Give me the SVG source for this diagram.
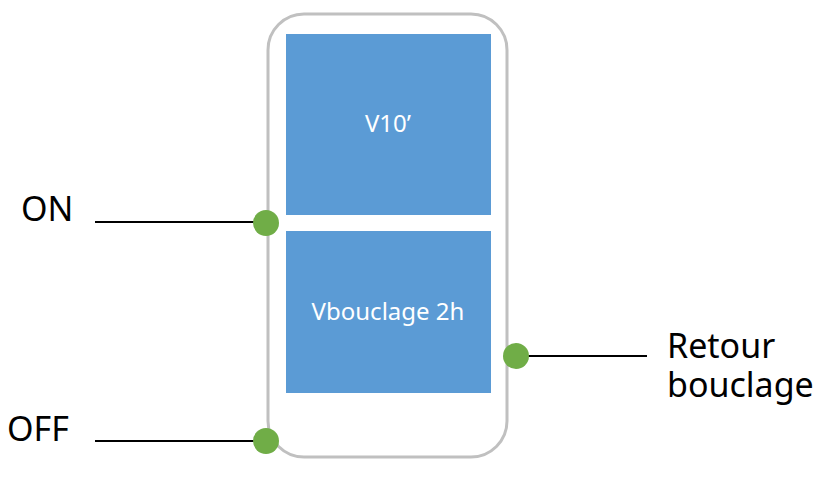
<svg xmlns="http://www.w3.org/2000/svg" width="830" height="480" viewBox="0 0 830 480">
<style>
.lbl{font-family:"Noto Sans",Lato,"Liberation Sans",sans-serif;fill:#000;font-size:34px}
.in{font-family:"Noto Sans",Lato,"Liberation Sans",sans-serif;fill:#fff;font-size:24px;text-anchor:middle}
.blk{fill:#5B9BD5}
.dot{fill:#70AD47}
.wire{stroke:#000;stroke-width:2;fill:none}
</style>
<rect width="830" height="480" fill="#fff"/>
<g id="container">
<rect x="268" y="14" width="239" height="443" rx="36" ry="36" fill="#fff" stroke="#C0C0C0" stroke-width="3"/>
</g>
<g id="v10">
<rect class="blk" x="286" y="34" width="205" height="181"/>
<text class="in" x="388" y="132">V10’</text>
</g>
<g id="vbouclage">
<rect class="blk" x="286" y="231" width="205" height="162"/>
<text class="in" x="388" y="320">Vbouclage 2h</text>
</g>
<g id="connectors">
<line class="wire" x1="95" y1="222" x2="260" y2="222"/>
<line class="wire" x1="95" y1="441" x2="260" y2="441"/>
<line class="wire" x1="522" y1="356" x2="647" y2="356"/>
</g>
<g id="on">
<circle class="dot" cx="266" cy="223" r="13"/>
<text class="lbl" x="21" y="221">ON</text>
</g>
<g id="off">
<circle class="dot" cx="266" cy="441" r="13"/>
<text class="lbl" x="7" y="441">OFF</text>
</g>
<g id="retour">
<circle class="dot" cx="516" cy="356" r="13"/>
<text class="lbl" x="667" y="358">Retour</text>
<text class="lbl" x="667" y="397">bouclage</text>
</g>
</svg>
